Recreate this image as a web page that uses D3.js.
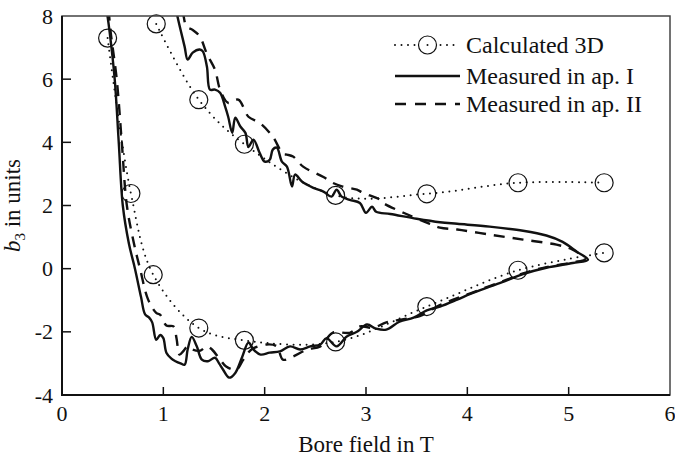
<!DOCTYPE html>
<html lang="en">
<head>
    <meta charset="UTF-8">
    <title>b3 vs bore field</title>
    <script src="https://d3js.org/d3.v7.min.js"></script>
    <style>
        body { margin: 0; background: #fff; }
        svg text { font-family: "Liberation Serif", "Times New Roman", serif; fill: #111; }
    </style>
</head>
<body>
    <script>
        const width = 675;
        const height = 458;
        const margin = { top: 16, right: 5, bottom: 63, left: 62 };

        // calculated 3D, two branches (circle markers)
        const calcLowX = [0.45, 0.68, 0.90, 1.35, 1.80, 2.70, 3.60, 4.50, 5.35];
        const calcLowY = [7.3, 2.38, -0.19, -1.88, -2.27, -2.32, -1.2, -0.05, 0.5];
        const calcUpX = [0.93, 1.35, 1.80, 2.70, 3.60, 4.50, 5.35];
        const calcUpY = [7.75, 5.35, 3.94, 2.32, 2.37, 2.72, 2.72];

        // measured in aperture I (solid), down the lower branch then back up
        const measIX = [0.44, 0.47, 0.52, 0.56, 0.60, 0.66, 0.72, 0.78, 0.82, 0.86, 0.89, 0.93, 0.97, 1.00, 1.03, 1.08, 1.12, 1.17, 1.21, 1.24,
            1.28, 1.33, 1.38, 1.44, 1.51, 1.55, 1.59, 1.65, 1.71, 1.78, 1.84, 1.89, 1.96, 2.05, 2.15, 2.25, 2.35, 2.45, 2.55, 2.61,
            2.71, 2.81, 2.91, 3.01, 3.10, 3.20, 3.33, 3.47, 3.60, 3.73, 3.90, 4.03, 4.22, 4.39, 4.55, 4.78, 5.04, 5.19,
            5.08, 4.94, 4.78, 4.55, 4.22, 3.90, 3.73, 3.50, 3.24, 3.10, 3.06, 3.00, 2.94, 2.84, 2.76, 2.71, 2.66, 2.58, 2.48, 2.37,
            2.30, 2.27, 2.22, 2.17, 2.12, 2.08, 2.05, 2.00, 1.95, 1.89, 1.84, 1.81, 1.76, 1.71, 1.68, 1.64, 1.61, 1.56, 1.51, 1.46,
            1.43, 1.39, 1.36, 1.29, 1.24, 1.21, 1.14, 1.12];
        const measIY = [8.2, 7.5, 6.0, 4.0, 2.0, 0.8, 0.0, -0.9, -1.45, -1.55, -1.7, -2.25, -2.1, -2.2, -2.66, -2.85, -2.93, -3.0, -3.04, -2.56,
            -2.16, -2.46, -2.88, -2.93, -2.82, -3.0, -3.2, -3.45, -3.3, -2.78, -2.34, -2.56, -2.72, -2.66, -2.62, -2.46, -2.56, -2.46, -2.4, -2.2,
            -2.46, -2.15, -2.0, -1.77, -1.9, -1.93, -1.68, -1.55, -1.32, -1.2, -0.98, -0.8, -0.57, -0.37, -0.17, 0.03, 0.18, 0.28,
            0.54, 0.85, 1.05, 1.2, 1.33, 1.42, 1.47, 1.58, 1.73, 1.8, 1.96, 1.77, 2.08, 2.18, 2.28, 2.5, 2.28, 2.44, 2.56, 2.75,
            2.98, 2.6, 3.23, 3.39, 3.83, 3.77, 3.45, 3.39, 3.67, 4.08, 3.86, 4.3, 4.5, 4.78, 4.3, 4.81, 5.13, 5.57, 5.67, 5.67,
            6.4, 6.88, 6.94, 6.84, 6.62, 7.03, 7.98, 8.3];

        // measured in aperture II (dashed)
        const measIIX = [0.46, 0.48, 0.54, 0.59, 0.64, 0.71, 0.77, 0.85, 0.93, 0.97, 1.03, 1.10, 1.13, 1.16, 1.20, 1.24, 1.29, 1.36, 1.43, 1.48,
            1.56, 1.62, 1.72, 1.79, 1.87, 2.02, 2.12, 2.18, 2.28, 2.42, 2.55, 2.67, 2.84, 2.94, 3.07, 3.20, 3.37, 3.53, 3.70, 3.86,
            4.03, 4.22, 4.39, 4.55, 4.78, 5.04, 5.16,
            5.04, 4.88, 4.55, 4.22, 3.90, 3.73, 3.63, 3.37, 3.17, 3.14, 2.97, 2.91, 2.77, 2.67, 2.58, 2.38, 2.28, 2.22, 2.18, 2.08,
            1.95, 1.84, 1.74, 1.64, 1.56, 1.51, 1.43, 1.36, 1.29, 1.23, 1.20, 1.19];
        const measIIY = [8.2, 7.5, 6.0, 4.0, 2.0, 0.8, 0.0, -0.98, -1.4, -1.46, -1.8, -1.83, -2.2, -2.72, -2.6, -2.46, -2.56, -2.6, -2.46, -2.56,
            -2.88, -3.1, -3.2, -2.88, -2.56, -2.4, -2.46, -2.88, -2.78, -2.56, -2.46, -2.03, -2.03, -1.83, -1.87, -1.7, -1.6, -1.5, -1.2, -0.98,
            -0.78, -0.55, -0.35, -0.15, 0.05, 0.2, 0.3,
            0.6, 0.76, 0.92, 1.08, 1.24, 1.3, 1.42, 1.77, 2.08, 2.18, 2.4, 2.5, 2.6, 2.72, 2.9, 3.23, 3.55, 3.61, 3.64, 4.18,
            4.62, 4.81, 5.35, 5.25, 5.67, 6.3, 6.8, 7.35, 7.56, 7.66, 8.0, 8.3];

        const xTicks = [0, 1, 2, 3, 4, 5, 6];
        const yTicks = [-4, -2, 0, 2, 4, 6, 8];
        const legendLabels = ["Calculated 3D", "Measured in ap. I", "Measured in ap. II"];

        const serif = "'Liberation Serif', 'Times New Roman', serif";

        const x = d3.scaleLinear().domain([0, 6]).range([margin.left, width - margin.right]);
        const y = d3.scaleLinear().domain([-4, 8]).range([height - margin.bottom, margin.top]);

        const svg = d3.select("body").append("svg")
            .attr("width", width)
            .attr("height", height);

        svg.append("clipPath").attr("id", "plot")
            .append("rect")
            .attr("x", x(0)).attr("y", y(8))
            .attr("width", x(6) - x(0)).attr("height", y(-4) - y(8));

        const zip = (xs, ys) => xs.map((v, i) => [v, ys[i]]);
        const smooth = d3.line().x(d => x(d[0])).y(d => y(d[1])).curve(d3.curveCatmullRom.alpha(0.5));

        const g = svg.append("g").attr("clip-path", "url(#plot)");

        // measured curves
        g.append("path")
            .attr("d", smooth(zip(measIIX, measIIY)))
            .attr("fill", "none")
            .attr("stroke", "#111")
            .attr("stroke-width", 2.4)
            .attr("stroke-dasharray", "11,8");

        g.append("path")
            .attr("d", smooth(zip(measIX, measIY)))
            .attr("fill", "none")
            .attr("stroke", "#111")
            .attr("stroke-width", 2.4);

        // calculated curves, dotted with circles
        [zip(calcLowX, calcLowY), zip(calcUpX, calcUpY)].forEach(pts => {
            g.append("path")
                .attr("d", smooth(pts))
                .attr("fill", "none")
                .attr("stroke", "#111")
                .attr("stroke-width", 2)
                .attr("stroke-linecap", "round")
                .attr("stroke-dasharray", "0,6.5");

            svg.selectAll(null)
                .data(pts)
                .enter().append("circle")
                .attr("cx", d => x(d[0]))
                .attr("cy", d => y(d[1]))
                .attr("r", 9)
                .attr("fill", "none")
                .attr("stroke", "#111")
                .attr("stroke-width", 1.2);
        });

        // frame
        svg.append("rect")
            .attr("x", x(0)).attr("y", y(8))
            .attr("width", x(6) - x(0)).attr("height", y(-4) - y(8))
            .attr("fill", "none")
            .attr("stroke", "#444")
            .attr("stroke-width", 1.5);
        svg.append("path")
            .attr("d", `M${x(0)},${y(8)}V${y(-4)}H${x(6)}`)
            .attr("fill", "none")
            .attr("stroke", "#111")
            .attr("stroke-width", 2);

        // ticks (inward)
        svg.selectAll(".xt")
            .data(xTicks.slice(1, -1))
            .enter().append("line")
            .attr("x1", d => x(d)).attr("x2", d => x(d))
            .attr("y1", y(-4)).attr("y2", y(-4) - 8)
            .attr("stroke", "#111").attr("stroke-width", 1.5);
        svg.selectAll(".yt")
            .data(yTicks.slice(1, -1))
            .enter().append("line")
            .attr("x1", x(0)).attr("x2", x(0) + 9)
            .attr("y1", d => y(d)).attr("y2", d => y(d))
            .attr("stroke", "#111").attr("stroke-width", 1.5);

        svg.selectAll(".xl")
            .data(xTicks)
            .enter().append("text")
            .attr("x", d => x(d))
            .attr("y", y(-4) + 26)
            .attr("text-anchor", "middle")
            .style("font-family", serif)
            .style("font-size", "22px")
            .text(d => d);
        svg.selectAll(".yl")
            .data(yTicks)
            .enter().append("text")
            .attr("x", x(0) - 9)
            .attr("y", d => y(d) + 7.5)
            .attr("text-anchor", "end")
            .style("font-family", serif)
            .style("font-size", "22px")
            .text(d => d);

        svg.append("text")
            .attr("x", x(3))
            .attr("y", 452)
            .attr("text-anchor", "middle")
            .style("font-family", serif)
            .style("font-size", "23px")
            .text("Bore field in T");

        const yl = svg.append("text")
            .attr("transform", `translate(20,${(y(8) + y(-4)) / 2}) rotate(-90)`)
            .attr("text-anchor", "middle")
            .style("font-family", serif)
            .style("font-size", "23px");
        yl.append("tspan").style("font-style", "italic").text("b");
        yl.append("tspan").style("font-size", "15px").attr("dy", 5).text("3");
        yl.append("tspan").attr("dy", -5).text(" in units");

        // legend
        const lx0 = 395, lx1 = 460;
        const ly = [45, 76, 104];
        const leg = svg.append("g");
        leg.append("line")
            .attr("x1", lx0).attr("x2", lx1).attr("y1", ly[0]).attr("y2", ly[0])
            .attr("stroke", "#111").attr("stroke-width", 2)
            .attr("stroke-linecap", "round").attr("stroke-dasharray", "0,6.5");
        leg.append("circle")
            .attr("cx", (lx0 + lx1) / 2).attr("cy", ly[0]).attr("r", 9)
            .attr("fill", "#fff").attr("stroke", "#111").attr("stroke-width", 1.2);
        leg.append("circle")
            .attr("cx", (lx0 + lx1) / 2).attr("cy", ly[0]).attr("r", 1)
            .attr("fill", "#111");
        leg.append("line")
            .attr("x1", lx0).attr("x2", lx1).attr("y1", ly[1]).attr("y2", ly[1])
            .attr("stroke", "#111").attr("stroke-width", 2.4);
        leg.append("line")
            .attr("x1", lx0).attr("x2", lx1).attr("y1", ly[2]).attr("y2", ly[2])
            .attr("stroke", "#111").attr("stroke-width", 2.4)
            .attr("stroke-dasharray", "11,9");
        leg.selectAll(".lt")
            .data(legendLabels)
            .enter().append("text")
            .attr("x", lx1 + 6)
            .attr("y", (d, i) => ly[i] + 7.5)
            .style("font-family", serif)
            .style("font-size", "24px")
            .text(d => d);
    </script>
</body>
</html>
